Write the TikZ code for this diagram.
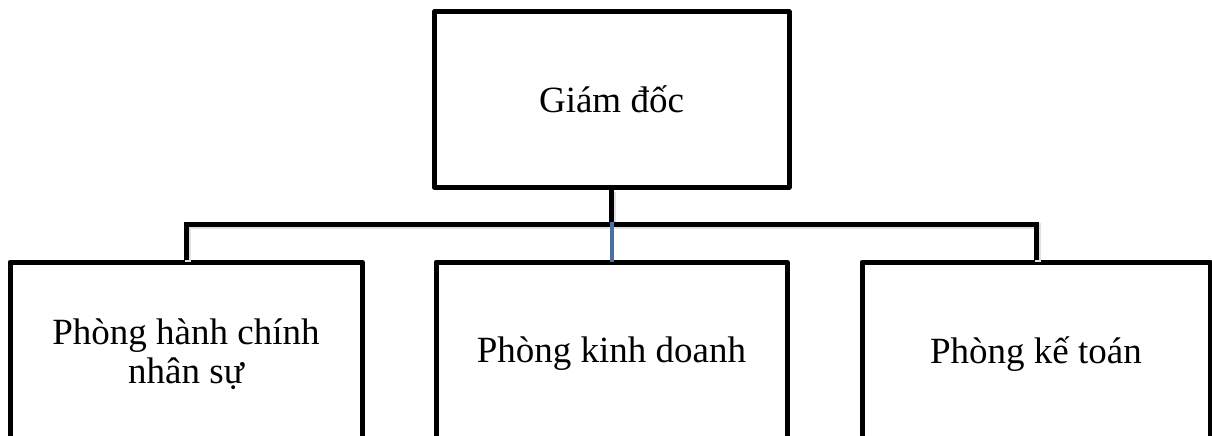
\documentclass[tikz,border=0pt]{standalone}
\usepackage{fontspec}
\setmainfont{Liberation Serif}
\definecolor{linkblue}{HTML}{4A70A0}

\begin{document}
\begin{tikzpicture}[x=1pt,y=-1pt,
        unit node/.style={draw,line width=5pt,line join=round,fill=white,
            inner sep=0pt,align=center,font=\fontsize{37}{38.5}\selectfont},
        top node/.style={unit node,minimum width=355pt,minimum height=175pt},
        dept node/.style={unit node,minimum height=184pt},
        link/.style={line width=5pt,line join=miter,
            preaction={draw=black!12,line width=6pt,
                transform canvas={shift={(1.5pt,-2pt)}}}},
        blue link/.style={linkblue,line width=4pt}]

        \useasboundingbox (0,0) rectangle (1212,436);

        \node[top node] (gd) at (611.5,99.5) {Giám đốc};

        \node[dept node,minimum width=352pt] (hc) at (186,354)   {Phòng hành chính\\nhân sự};
        \node[dept node,minimum width=351pt] (kd) at (611.5,354) {Phòng kinh doanh};
        \node[dept node,minimum width=348pt] (kt) at (1036,354)  {Phòng kế toán};

        \coordinate (bus) at (611.5,224);

        \draw[link] (gd.south) -- (bus);
        \draw[link] (hc.north) -- (hc.north |- bus) -- (kt.north |- bus) -- (kt.north);
        \draw[blue link] ([yshift=2.5pt]bus) -- ([yshift=-2.5pt]kd.north);
    \end{tikzpicture}
\end{document}
